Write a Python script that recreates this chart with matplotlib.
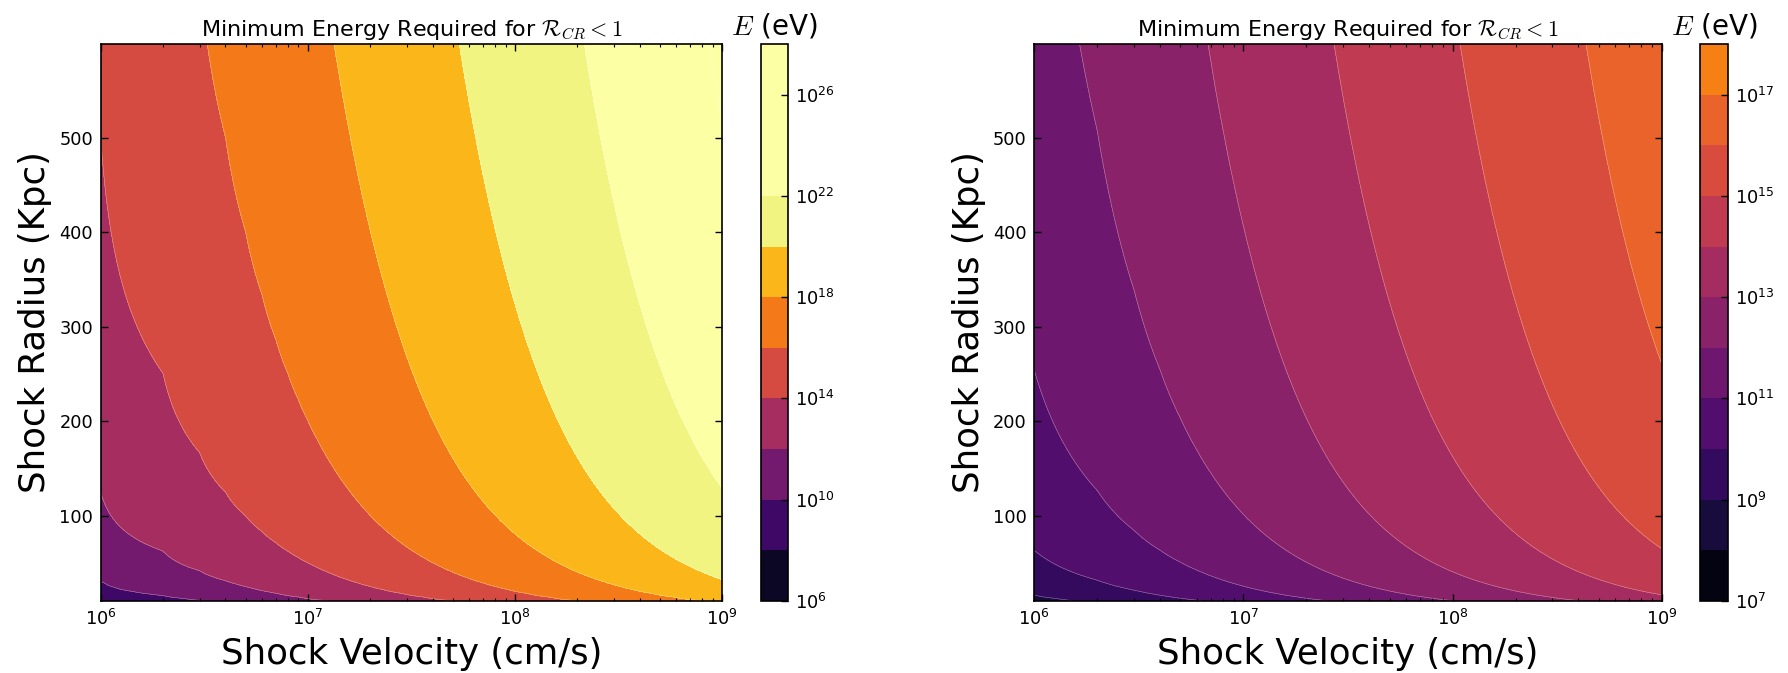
import numpy as np
import matplotlib as mpl
import matplotlib.pyplot as plt
from matplotlib.colors import LogNorm

# -------------------- Style --------------------
mpl.rcParams["mathtext.fontset"] = "cm"
mpl.rcParams["axes.linewidth"] = 1.2
mpl.rcParams["xtick.direction"] = "in"
mpl.rcParams["ytick.direction"] = "in"
mpl.rcParams["xtick.top"] = True
mpl.rcParams["ytick.right"] = True
mpl.rcParams["xtick.major.size"] = 5
mpl.rcParams["ytick.major.size"] = 5
mpl.rcParams["xtick.minor.size"] = 2.5
mpl.rcParams["xtick.major.width"] = 1.0
mpl.rcParams["ytick.major.width"] = 1.0
mpl.rcParams["xtick.minor.width"] = 0.8
mpl.rcParams["xtick.major.pad"] = 6
mpl.rcParams["ytick.major.pad"] = 5.5

TICK_FS = 12.8
TITLE_FS = 16
LABEL_FS = 25.6
CBAR_FS = 20

W, H = 1788, 673

# -------------------- Data --------------------
# log10(E / eV) along the top edge (R = 599 kpc) at these shock velocities
VEL_NODES = [1e6, 1e7, 1e8, 1e9]
left_logE_top = [14.26, 17.58, 20.89, 24.21]
right_logE_top = [11.62, 13.28, 14.94, 16.60]

# log10(E / eV) along the left edge (v = 1e6 cm/s) at these shock radii
RAD_NODES = [10, 30, 100, 300, 599]
left_logE_side = [8.36, 9.94, 11.68, 13.26, 14.26]
right_logE_side = [8.67, 9.46, 10.33, 11.12, 11.62]

# contour levels / colorbar ticks (exponents of 10)
left_levels_exp = [6, 8, 10, 12, 14, 16, 18, 20, 22, 24, 26, 28]
right_levels_exp = [7, 8, 9, 10, 11, 12, 13, 14, 15, 16, 17, 18]
left_cbar_ticks = [6, 10, 14, 18, 22, 26]
right_cbar_ticks = [7, 9, 11, 13, 15, 17]
radius_ticks = [100, 200, 300, 400, 500]

# colour scale limits (exponents of 10)
left_clim = (6.0, 21.6)
right_clim = (7.0, 21.6)

TITLE = r"Minimum Energy Required for $\mathcal{R}_{CR} < 1$"

# evaluation grid (linear in v, like the original calculation)
velocity = np.linspace(1e6, 1e9, 1000)
radius = np.linspace(10, 599, 150)


def build_field(top, side):
    a = np.interp(np.log10(velocity), np.log10(VEL_NODES), top)
    b = np.interp(np.log10(radius), np.log10(RAD_NODES), side)
    return 10.0 ** (a[None, :] + b[:, None] - side[-1])


def px_axes(fig, x0, x1, y0, y1):
    return fig.add_axes([x0 / W, (H - y1) / H, (x1 - x0) / W, (y1 - y0) / H])


def draw_panel(ax, cax, E, levels_exp, cbar_ticks, clim):
    levels = 10.0 ** np.array(levels_exp, dtype=float)
    norm = LogNorm(vmin=10 ** clim[0], vmax=10 ** clim[1])
    cs = ax.contourf(velocity, radius, E, levels=levels, norm=norm, cmap="inferno")
    ax.contour(velocity, radius, E, levels=levels, colors="white", linewidths=0.4, alpha=0.45)
    ax.set_xscale("log")
    ax.set_xlim(1e6, 1e9)
    ax.set_ylim(10, 599)
    ax.set_yticks(radius_ticks)
    ax.tick_params(which="both", labelsize=TICK_FS)
    ax.set_title(TITLE, fontsize=TITLE_FS)
    ax.set_xlabel("Shock Velocity (cm/s)", fontsize=LABEL_FS, labelpad=6)
    ax.set_ylabel("Shock Radius (Kpc)", fontsize=LABEL_FS, labelpad=5)

    cb = plt.colorbar(cs, cax=cax)
    cb.set_ticks(10.0 ** np.array(cbar_ticks, dtype=float))
    cb.ax.minorticks_off()
    cb.ax.tick_params(direction="in", length=5, width=1.0, labelsize=TICK_FS, pad=5)
    cb.outline.set_linewidth(1.2)
    cb.ax.set_title("$E$ (eV)", fontsize=CBAR_FS, pad=7)
    return cs


fig = plt.figure(figsize=(W / 100, H / 100), dpi=100)

ax1 = px_axes(fig, 100.7, 722.3, 44.3, 600.7)
cax1 = px_axes(fig, 760.7, 788.0, 44.3, 600.7)
ax2 = px_axes(fig, 1034.3, 1661.7, 44.3, 600.7)
cax2 = px_axes(fig, 1700.0, 1727.7, 44.3, 600.7)

draw_panel(ax1, cax1, build_field(left_logE_top, left_logE_side),
           left_levels_exp, left_cbar_ticks, left_clim)
draw_panel(ax2, cax2, build_field(right_logE_top, right_logE_side),
           right_levels_exp, right_cbar_ticks, right_clim)

fig.savefig("out.png", dpi=100)
